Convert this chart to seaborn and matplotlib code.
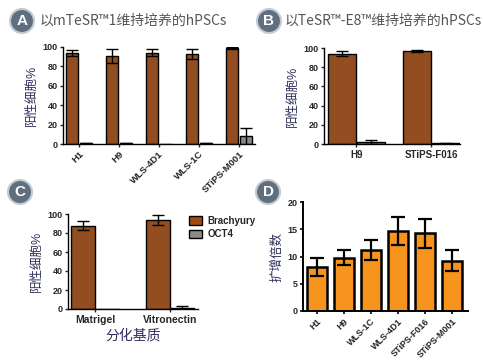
import numpy as np
import pandas as pd
import seaborn as sns
import matplotlib
matplotlib.use("Agg")
from matplotlib import pyplot as plt
from matplotlib.patches import Circle

# panel A: maintained in mTeSR1
a_lines = ["H1", "H9", "WLS-4D1", "WLS-1C", "STiPS-M001"]
a_bra = [93.5, 90.5, 94, 92.5, 98.7]
a_bra_err = [3, 7, 3.5, 5, 1.2]
a_oct = [1, 1, 0, 1, 8]
a_oct_err = [0.5, 0.5, 0, 0.5, 9]

# panel B: maintained in TeSR-E8
b_lines = ["H9", "STiPS-F016"]
b_bra = [94, 97]
b_bra_err = [2.5, 0.7]
b_oct = [1.7, 1]
b_oct_err = [2, 0.5]

# panel C: differentiation matrix
c_matrix = ["Matrigel", "Vitronectin"]
c_bra = [87.5, 93.3]
c_bra_err = [4.7, 5.3]
c_oct = [0, 1.2]
c_oct_err = [0, 1.8]

# panel D: fold expansion
d_lines = ["H1", "H9", "WLS-1C", "WLS-4D1", "STiPS-F016", "STiPS-M001"]
d_fold = [8.1, 9.8, 11.2, 14.7, 14.25, 9.25]
d_fold_err = [1.7, 1.4, 1.85, 2.5, 2.65, 1.95]

markers = ["Brachyury", "OCT4"]
BROWN = "#a54a0e"
GREY = "#8a8a8a"
ORANGE = "#f7941d"
NAVY = "#2e2e5c"

sns.set_style("ticks")
plt.rcParams["font.family"] = ["Liberation Sans", "Noto Sans CJK SC", "DejaVu Sans"]

W, H = 483, 362
fig = plt.figure(figsize=(W / 100, H / 100), dpi=100)


def px_axes(x0, x1, ytop, ybot):
    return fig.add_axes([x0 / W, 1 - ybot / H, (x1 - x0) / W, (ybot - ytop) / H])


def long_df(cats, bra, oct_):
    return pd.DataFrame({
        "cat": cats * 2,
        "marker": ["Brachyury"] * len(cats) + ["OCT4"] * len(cats),
        "val": list(bra) + list(oct_),
    })


def add_err(ax, errs, lw=1.0, capsize=4):
    for cont, err in zip(ax.containers, errs):
        xs = [p.get_x() + p.get_width() / 2 for p in cont.patches]
        ys = [p.get_height() for p in cont.patches]
        err = np.array(err, dtype=float)
        keep = err > 0
        ax.errorbar(np.array(xs)[keep], np.array(ys)[keep], yerr=err[keep], fmt="none",
                    ecolor="black", elinewidth=lw, capsize=capsize, capthick=lw, zorder=5)


def style_axes(ax, lw=1.0):
    sns.despine(ax=ax)
    for s in ["left", "bottom"]:
        ax.spines[s].set_linewidth(lw)
        ax.spines[s].set_color("black")
    ax.tick_params(axis="both", length=2.5, width=lw, pad=1.5, labelsize=6.5)
    for t in ax.get_xticklabels() + ax.get_yticklabels():
        t.set_fontweight("bold")
    ax.set_xlabel("")


def grouped(ax, cats, bra, bra_err, oct_, oct_err, width, gap, xlim):
    df = long_df(cats, bra, oct_)
    sns.barplot(data=df, x="cat", y="val", hue="marker", hue_order=markers,
                palette=[BROWN, GREY], width=width, gap=gap, errorbar=None,
                edgecolor="black", linewidth=1.0, legend=False, ax=ax)
    add_err(ax, [bra_err, oct_err])
    ax.set_ylim(0, 100)
    ax.set_yticks(range(0, 101, 20))
    ax.set_xlim(*xlim)
    ax.set_ylabel("阳性细胞%", color=NAVY, fontsize=9, labelpad=3)
    style_axes(ax)


def badge(x, y, letter):
    c = Circle((x / 100, (H - y) / 100), 0.12, transform=fig.dpi_scale_trans,
               facecolor="#5f6f7d", edgecolor="#c3ccd4", linewidth=1.5, zorder=10)
    fig.add_artist(c)
    fig.text(x / W, 1 - y / H, letter, color="white", fontsize=11, fontweight="bold",
             ha="center", va="center", family="Liberation Sans", zorder=11)


# A
axA = px_axes(63, 255, 47, 144)
grouped(axA, a_lines, a_bra, a_bra_err, a_oct, a_oct_err, 0.72, 0.15, (-0.4, 4.4))
axA.set_xticks(range(len(a_lines)))
axA.set_xticklabels(a_lines, rotation=45, ha="right", rotation_mode="anchor",
                    fontweight="bold", fontsize=6.8)

# B
axB = px_axes(324, 460, 48, 144)
grouped(axB, b_lines, b_bra, b_bra_err, b_oct, b_oct_err, 0.76, 0.02, (-0.43, 1.38))
axB.tick_params(axis="x", labelsize=7)

# C
axC = px_axes(68, 198, 214, 309)
grouped(axC, c_matrix, c_bra, c_bra_err, c_oct, c_oct_err, 0.64, 0.02, (-0.36, 1.37))
axC.tick_params(axis="x", labelsize=7.5)
axC.set_xlabel("分化基质", color=NAVY, fontsize=10, labelpad=3)
handles = [plt.Rectangle((0, 0), 1, 1, facecolor=col, edgecolor="black", linewidth=1.0)
           for col in [BROWN, GREY]]
fig.legend(handles, markers, loc="upper left", bbox_to_anchor=(185 / W, 1 - 212 / H),
           frameon=False, prop={"size": 7, "weight": "bold"}, handlelength=1.3,
           handleheight=0.9, handletextpad=0.6, labelspacing=0.35, borderaxespad=0)

# D
axD = px_axes(303, 468, 202, 311)
dfD = pd.DataFrame({"line": d_lines, "fold": d_fold})
sns.barplot(data=dfD, x="line", y="fold", color=ORANGE, saturation=1, width=0.74,
            errorbar=None, edgecolor="black", linewidth=1.8, ax=axD)
add_err(axD, [d_fold_err], lw=1.6, capsize=5)
axD.set_ylim(0, 20)
axD.set_yticks(range(0, 21, 5))
axD.set_xlim(-0.52, 5.6)
axD.set_ylabel("扩增倍数", color=NAVY, fontsize=9, labelpad=3)
style_axes(axD, lw=1.4)
axD.set_xticks(range(len(d_lines)))
axD.set_xticklabels(d_lines, rotation=45, ha="right", rotation_mode="anchor",
                    fontweight="bold", fontsize=6.5)

# headers
badge(22, 21, "A")
fig.text(40 / W, 1 - 21 / H, "以mTeSR™1维持培养的hPSCs", color="#555555", fontsize=10,
         va="center", ha="left", family=["Noto Sans CJK SC", "DejaVu Sans"])
badge(269, 21, "B")
fig.text(285 / W, 1 - 21 / H, "以TeSR™-E8™维持培养的hPSCs", color="#555555", fontsize=10,
         va="center", ha="left", family=["Noto Sans CJK SC", "DejaVu Sans"])
badge(20, 192, "C")
badge(268, 192, "D")

fig.savefig("out.png", dpi=100)
